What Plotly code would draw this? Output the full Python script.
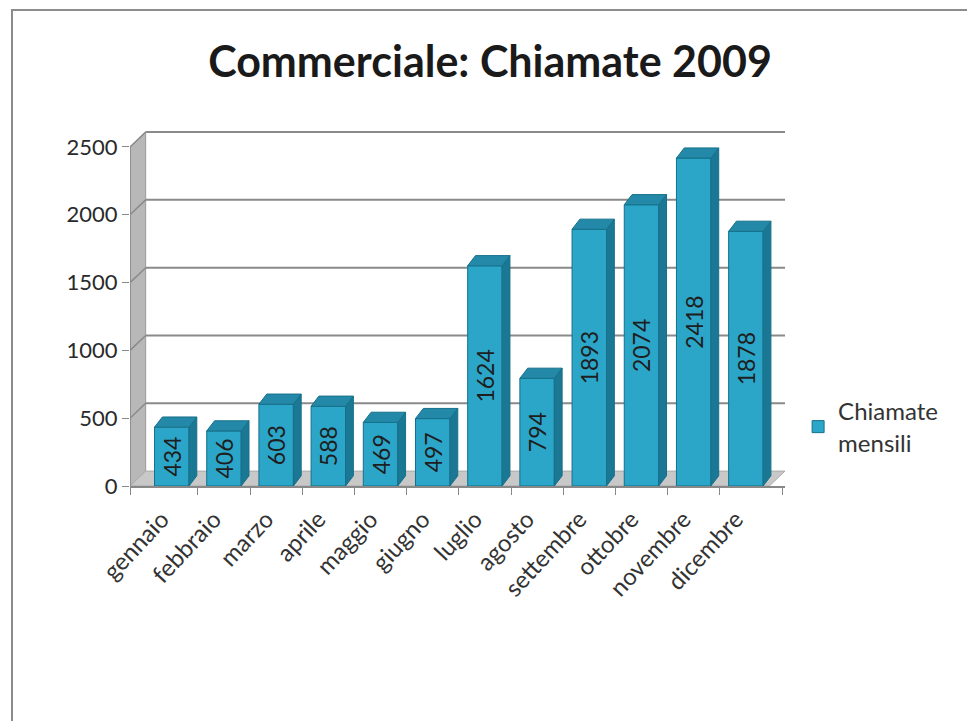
import plotly.graph_objects as go

# ---- data ----
months = ["gennaio", "febbraio", "marzo", "aprile", "maggio", "giugno",
          "luglio", "agosto", "settembre", "ottobre", "novembre", "dicembre"]
values = [434, 406, 603, 588, 469, 497, 1624, 794, 1893, 2074, 2418, 1878]
y_ticks = [0, 500, 1000, 1500, 2000, 2500]
series_name = "Chiamate<br>mensili"
title_text = "Commerciale: Chiamate 2009"

# ---- style / geometry ----
FONT = "Lato"
front = "#2ba6c8"
side = "#1a7894"
top = "#2489a8"
edge = "#16708a"
wall = "#b8b8b8"
grid = "#8a8a8a"
bw = 0.66            # bar width (category units)
dx, dy = 0.15, 75    # 3-D depth of bars
wdx, wdy = 0.30, 110  # depth of wall / floor
x_lo, x_hi = -0.8, 11.75
y_hi = 2640

xs = list(range(len(months)))

fig = go.Figure()

fig.add_trace(go.Bar(
    x=xs, y=values, width=bw, name=series_name,
    marker=dict(color=front, line=dict(color=edge, width=1)),
    text=[str(v) for v in values], textposition="inside",
    insidetextanchor="middle", textangle=-90,
    textfont=dict(family=FONT, size=23, color="#1e1e1e"),
    showlegend=True,
))

# side and top faces of the 3-D bars (derived from the data)
sx, sy, tx, ty = [], [], [], []
for i, v in zip(xs, values):
    r = i + bw / 2
    l = i - bw / 2
    sx += [r, r + dx, r + dx, r, r, None]
    sy += [0, dy, v + dy, v, 0, None]
    tx += [l, r, r + dx, l + dx, l, None]
    ty += [v, v, v + dy, v + dy, v, None]
fig.add_trace(go.Scatter(x=sx, y=sy, fill="toself", fillcolor=side, mode="lines",
                         line=dict(color=edge, width=1), showlegend=False, hoverinfo="skip"))
fig.add_trace(go.Scatter(x=tx, y=ty, fill="toself", fillcolor=top, mode="lines",
                         line=dict(color=edge, width=1), showlegend=False, hoverinfo="skip"))

shapes = []
# left wall
shapes.append(dict(type="path", xref="x", yref="y", layer="below",
                   path=f"M {x_lo},0 L {x_lo + wdx},{wdy} L {x_lo + wdx},{y_ticks[-1] + wdy} L {x_lo},{y_ticks[-1]} Z",
                   fillcolor=wall, line=dict(color="#999999", width=1)))
# floor
shapes.append(dict(type="path", xref="x", yref="y", layer="below",
                   path=f"M {x_lo},0 L {x_hi - wdx},0 L {x_hi},{wdy} L {x_lo + wdx},{wdy} Z",
                   fillcolor="#c8c8c8", line=dict(color="#aaaaaa", width=1)))
# gridlines on back wall + diagonal on side wall
for t in y_ticks[1:]:
    shapes.append(dict(type="line", xref="x", yref="y", layer="below",
                       x0=x_lo + wdx, x1=x_hi, y0=t + wdy, y1=t + wdy,
                       line=dict(color=grid, width=2)))
    shapes.append(dict(type="line", xref="x", yref="y", layer="below",
                       x0=x_lo, x1=x_lo + wdx, y0=t, y1=t + wdy,
                       line=dict(color=grid, width=1.5)))
# y axis line
shapes.append(dict(type="line", xref="x", yref="y", x0=x_lo, x1=x_lo, y0=0, y1=y_ticks[-1],
                   line=dict(color="#888888", width=1.5)))
# chart frame
shapes.append(dict(type="rect", xref="paper", yref="paper",
                   x0=(12 - 130) / 655, x1=1.5, y0=-1.0, y1=(486 - 10) / 358,
                   line=dict(color="#8c8c8c", width=2), fillcolor="rgba(0,0,0,0)"))

fig.update_layout(
    width=967, height=721,
    margin=dict(l=130, r=182, t=128, b=235),
    paper_bgcolor="white", plot_bgcolor="white",
    title=dict(text=title_text, x=490 / 967, xref="container", xanchor="center",
               y=1 - 62 / 721, yref="container", yanchor="middle",
               font=dict(family=FONT, size=43, color="#1a1a1a", weight="bold")),
    shapes=shapes,
    legend=dict(x=1.02, y=0.165, xanchor="left", yanchor="middle",
                font=dict(family=FONT, size=24, color="#333333"),
                bgcolor="rgba(0,0,0,0)", itemwidth=30),
    showlegend=True,
    hovermode=False,
)
fig.update_xaxes(
    range=[x_lo, x_hi], tickmode="array", tickvals=xs, ticktext=months,
    tickangle=-47, ticks="", showgrid=False, zeroline=False,
    showline=True, linecolor="#888888", linewidth=1.5,
    ticklabelshift=-10, ticklabelstandoff=8,
    tickfont=dict(family=FONT, size=24, color="#333333"),
    minor=dict(tickmode="array", tickvals=[x_lo] + [i + 0.5 for i in xs[:-1]] + [x_hi - 0.05],
               ticks="outside", ticklen=7, tickcolor="#888888", showgrid=False),
)
fig.update_yaxes(
    range=[0, y_hi], tickmode="array", tickvals=y_ticks,
    ticks="outside", ticklen=7, tickcolor="#888888",
    showgrid=False, zeroline=False, showline=False,
    tickfont=dict(family=FONT, size=22, color="#2a2a2a"),
)

fig.write_html("out.html")
